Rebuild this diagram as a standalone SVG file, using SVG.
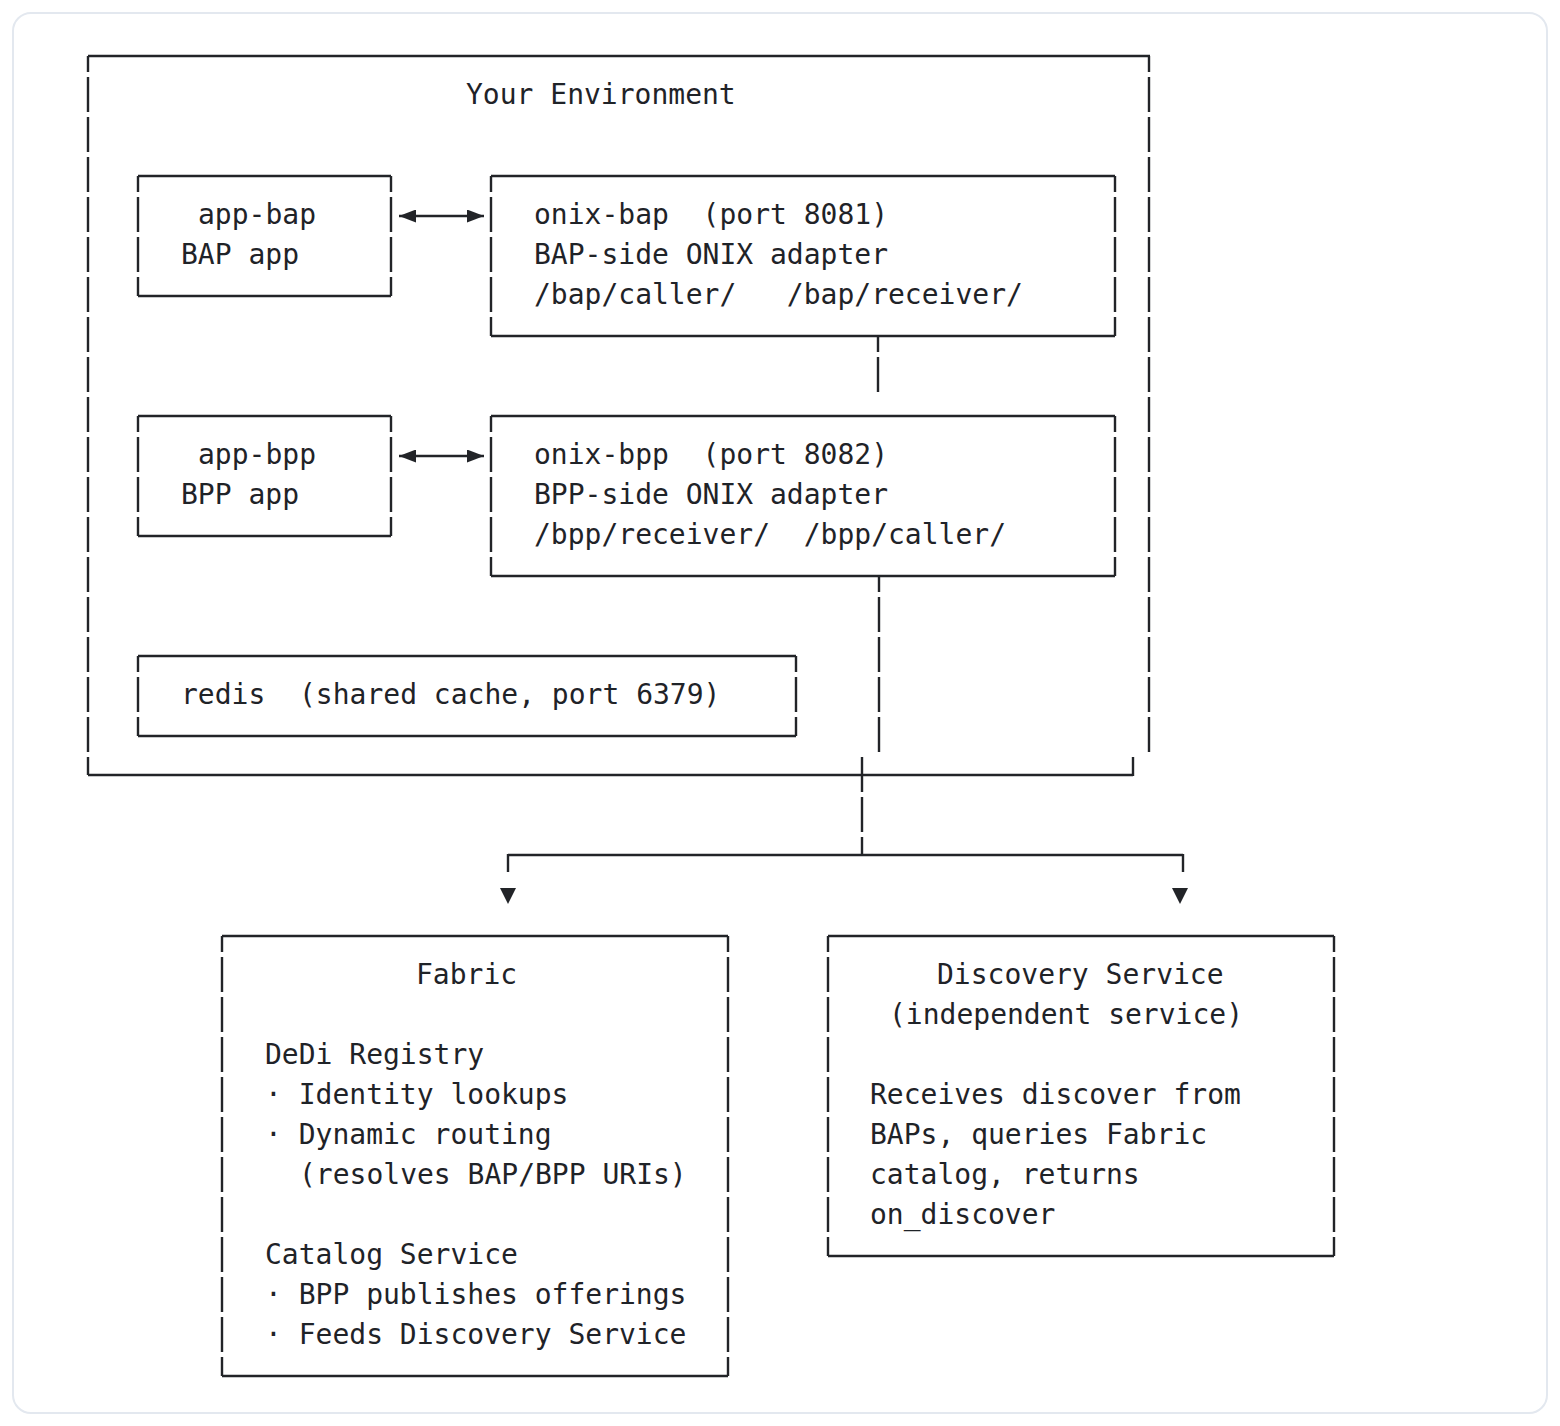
<svg xmlns="http://www.w3.org/2000/svg" width="1560" height="1426" viewBox="0 0 1560 1426">
<style>
  .frame { fill: #ffffff; stroke: #e3e8ef; stroke-width: 2; }
  .h { stroke: #222428; stroke-width: 2.4; fill: none; }
  .v { stroke: #222428; stroke-width: 2.4; fill: none; stroke-dasharray: 35 5; stroke-dashoffset: 19; }
  .v0 { stroke: #222428; stroke-width: 2.4; fill: none; stroke-dasharray: 35 5; }
  .t { font-family: "DejaVu Sans Mono", "Liberation Mono", monospace; font-size: 28px; fill: #1f2328; white-space: pre; }
  .tri { fill: #222428; }
</style>
<defs>
  <marker id="ah" markerUnits="userSpaceOnUse" markerWidth="17" markerHeight="13" viewBox="0 0 17 13" refX="17" refY="6.5" orient="auto-start-reverse">
    <path d="M0 0 L17 6.5 L0 13 Z" fill="#222428"/>
  </marker>
</defs>
<rect width="1560" height="1426" fill="#ffffff"/>
<rect class="frame" x="13" y="13" width="1534" height="1400" rx="18"/>

<g id="node-environment">
  <line class="h" x1="88" y1="56" x2="1150" y2="56"/>
  <line class="v" x1="88" y1="56" x2="88" y2="775"/>
  <line class="v" x1="1149" y1="56" x2="1149" y2="752"/>
  <line class="h" x1="88" y1="775" x2="1133" y2="775"/>
  <line class="h" x1="1133" y1="757" x2="1133" y2="776"/>
  <text class="t" x="466" y="104">Your Environment</text>
</g>

<g id="node-app-bap">
  <line class="h" x1="138" y1="176" x2="391" y2="176"/>
  <line class="h" x1="138" y1="296" x2="391" y2="296"/>
  <line class="v" x1="138" y1="176" x2="138" y2="296"/>
  <line class="v" x1="391" y1="176" x2="391" y2="296"/>
  <text class="t" x="198" y="224">app-bap</text>
  <text class="t" x="181" y="264">BAP app</text>
</g>

<g id="node-onix-bap">
  <line class="h" x1="491" y1="176" x2="1115" y2="176"/>
  <line class="h" x1="491" y1="336" x2="1115" y2="336"/>
  <line class="v" x1="491" y1="176" x2="491" y2="336"/>
  <line class="v" x1="1115" y1="176" x2="1115" y2="336"/>
  <text class="t" x="534" y="224" xml:space="preserve">onix-bap  (port 8081)</text>
  <text class="t" x="534" y="264">BAP-side ONIX adapter</text>
  <text class="t" x="534" y="304" xml:space="preserve">/bap/caller/   /bap/receiver/</text>
</g>

<g id="node-app-bpp">
  <line class="h" x1="138" y1="416" x2="391" y2="416"/>
  <line class="h" x1="138" y1="536" x2="391" y2="536"/>
  <line class="v" x1="138" y1="416" x2="138" y2="536"/>
  <line class="v" x1="391" y1="416" x2="391" y2="536"/>
  <text class="t" x="198" y="464">app-bpp</text>
  <text class="t" x="181" y="504">BPP app</text>
</g>

<g id="node-onix-bpp">
  <line class="h" x1="491" y1="416" x2="1115" y2="416"/>
  <line class="h" x1="491" y1="576" x2="1115" y2="576"/>
  <line class="v" x1="491" y1="416" x2="491" y2="576"/>
  <line class="v" x1="1115" y1="416" x2="1115" y2="576"/>
  <text class="t" x="534" y="464" xml:space="preserve">onix-bpp  (port 8082)</text>
  <text class="t" x="534" y="504">BPP-side ONIX adapter</text>
  <text class="t" x="534" y="544" xml:space="preserve">/bpp/receiver/  /bpp/caller/</text>
</g>

<g id="node-redis">
  <line class="h" x1="138" y1="656" x2="796" y2="656"/>
  <line class="h" x1="138" y1="736" x2="796" y2="736"/>
  <line class="v" x1="138" y1="656" x2="138" y2="736"/>
  <line class="v" x1="796" y1="656" x2="796" y2="736"/>
  <text class="t" x="181" y="704" xml:space="preserve">redis  (shared cache, port 6379)</text>
</g>

<g id="node-fabric">
  <line class="h" x1="222" y1="936" x2="728" y2="936"/>
  <line class="h" x1="222" y1="1376" x2="728" y2="1376"/>
  <line class="v" x1="222" y1="936" x2="222" y2="1376"/>
  <line class="v" x1="728" y1="936" x2="728" y2="1376"/>
  <text class="t" x="416" y="984">Fabric</text>
  <text class="t" x="265" y="1064">DeDi Registry</text>
  <text class="t" x="265" y="1104">· Identity lookups</text>
  <text class="t" x="265" y="1144">· Dynamic routing</text>
  <text class="t" x="299" y="1184">(resolves BAP/BPP URIs)</text>
  <text class="t" x="265" y="1264">Catalog Service</text>
  <text class="t" x="265" y="1304">· BPP publishes offerings</text>
  <text class="t" x="265" y="1344">· Feeds Discovery Service</text>
</g>

<g id="node-discovery">
  <line class="h" x1="828" y1="936" x2="1334" y2="936"/>
  <line class="h" x1="828" y1="1256" x2="1334" y2="1256"/>
  <line class="v" x1="828" y1="936" x2="828" y2="1256"/>
  <line class="v" x1="1334" y1="936" x2="1334" y2="1256"/>
  <text class="t" x="937" y="984">Discovery Service</text>
  <text class="t" x="889" y="1024">(independent service)</text>
  <text class="t" x="870" y="1104">Receives discover from</text>
  <text class="t" x="870" y="1144">BAPs, queries Fabric</text>
  <text class="t" x="870" y="1184">catalog, returns</text>
  <text class="t" x="870" y="1224">on_discover</text>
</g>

<g id="connectors">
  <line class="h" x1="399" y1="216" x2="484" y2="216" marker-start="url(#ah)" marker-end="url(#ah)"/>
  <line class="h" x1="399" y1="456" x2="484" y2="456" marker-start="url(#ah)" marker-end="url(#ah)"/>
  <line class="v" x1="878" y1="336" x2="878" y2="392"/>
  <line class="v" x1="879" y1="576" x2="879" y2="752"/>
  <line class="v0" x1="862" y1="757" x2="862" y2="856"/>
  <line class="h" x1="508" y1="855" x2="1183" y2="855"/>
  <line class="h" x1="508" y1="854" x2="508" y2="872"/>
  <line class="h" x1="1183" y1="854" x2="1183" y2="872"/>
  <polygon class="tri" points="500,888 516,888 508,904"/>
  <polygon class="tri" points="1172,888 1188,888 1180,904"/>
</g>
</svg>
